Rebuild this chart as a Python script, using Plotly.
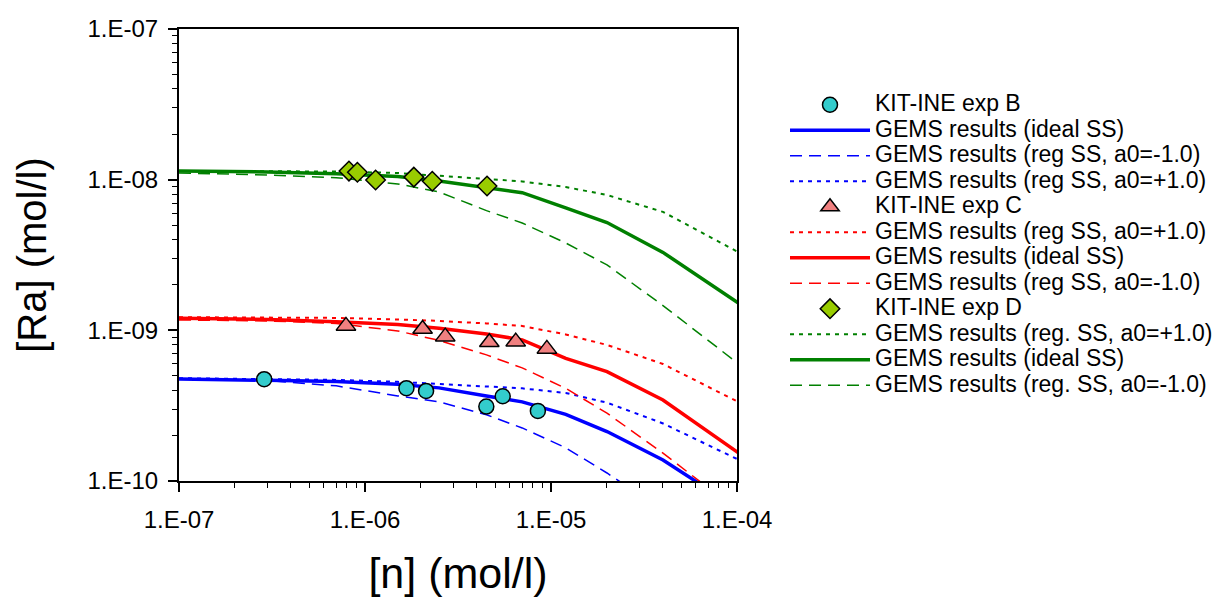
import plotly.graph_objects as go

# ---- data ----
x_model = [1e-7, 3e-7, 7e-7, 1.5e-6, 2.5e-6, 4.5e-6, 7e-6, 1.2e-5, 2e-5, 4e-5, 1e-4, 1.3e-4]

blue_ideal = [4.76e-10, 4.69e-10, 4.58e-10, 4.38e-10, 4.15e-10, 3.67e-10, 3.35e-10, 2.77e-10, 2.13e-10, 1.38e-10, 6.73e-11, 5.35e-11]
blue_neg = [4.76e-10, 4.65e-10, 4.28e-10, 3.67e-10, 3.35e-10, 2.75e-10, 2.25e-10, 1.66e-10, 1.13e-10, 6.35e-11, 3.0e-11, 2.5e-11]
blue_pos = [4.81e-10, 4.77e-10, 4.69e-10, 4.55e-10, 4.38e-10, 4.24e-10, 4.12e-10, 3.84e-10, 3.31e-10, 2.41e-10, 1.40e-10, 1.22e-10]

red_pos = [1.222e-9, 1.218e-9, 1.209e-9, 1.181e-9, 1.155e-9, 1.111e-9, 1.069e-9, 9.39e-10, 8.0e-10, 5.98e-10, 3.35e-10, 2.87e-10]
red_ideal = [1.203e-9, 1.181e-9, 1.142e-9, 1.094e-9, 1.033e-9, 9.46e-10, 8.64e-10, 6.51e-10, 5.32e-10, 3.45e-10, 1.56e-10, 1.24e-10]
red_neg = [1.172e-9, 1.155e-9, 1.111e-9, 9.91e-10, 8.57e-10, 6.87e-10, 5.63e-10, 4.12e-10, 2.82e-10, 1.53e-10, 6.43e-11, 5.04e-11]

green_pos = [1.142e-8, 1.142e-8, 1.133e-8, 1.107e-8, 1.066e-8, 1.011e-8, 9.73e-9, 8.94e-9, 7.91e-9, 6.11e-9, 3.34e-9, 2.84e-9]
green_ideal = [1.14e-8, 1.125e-8, 1.096e-8, 1.05e-8, 9.80e-9, 8.87e-9, 8.20e-9, 6.49e-9, 5.19e-9, 3.29e-9, 1.52e-9, 1.24e-9]
green_neg = [1.107e-8, 1.075e-8, 1.031e-8, 9.37e-9, 8.29e-9, 6.23e-9, 5.16e-9, 3.80e-9, 2.72e-9, 1.46e-9, 6.1e-10, 4.9e-10]

expB_x = [2.87e-7, 1.67e-6, 2.13e-6, 4.49e-6, 5.5e-6, 8.5e-6]
expB_y = [4.74e-10, 4.13e-10, 3.96e-10, 3.12e-10, 3.65e-10, 2.92e-10]
expC_x = [7.9e-7, 2.04e-6, 2.7e-6, 4.66e-6, 6.46e-6, 9.5e-6]
expC_y = [1.07e-9, 1.02e-9, 9.08e-10, 8.34e-10, 8.41e-10, 7.53e-10]
expD_x = [8.2e-7, 9.1e-7, 1.14e-6, 1.83e-6, 2.3e-6, 4.53e-6]
expD_y = [1.14e-8, 1.12e-8, 9.95e-9, 1.04e-8, 9.76e-9, 9.08e-9]

x_ticks = [1e-7, 1e-6, 1e-5, 1e-4]
x_ticktext = ["1.E-07", "1.E-06", "1.E-05", "1.E-04"]
y_ticks = [1e-10, 1e-9, 1e-8, 1e-7]
y_ticktext = ["1.E-10", "1.E-09", "1.E-08", "1.E-07"]

BLUE, RED, GREEN = "#0000FF", "#FF0000", "#008000"
DASH = "12px,7px"
DOT = "4px,5px"
FONT = "Liberation Sans, Arial"

def lg(t):
    return '<span style="font-size:23px">' + t + '</span>'

fig = go.Figure()

def exp_trace(x, y, name, symbol, color, size):
    fig.add_trace(go.Scatter(x=x, y=y, mode="markers", name=lg(name),
                             marker=dict(symbol=symbol, color=color, size=size,
                                         line=dict(color="black", width=1.5))))

def line_trace(y, name, color, kind):
    if kind == "solid":
        line = dict(color=color, width=3.5)
    elif kind == "dash":
        line = dict(color=color, width=1.5, dash=DASH)
    else:
        line = dict(color=color, width=2, dash=DOT)
    fig.add_trace(go.Scatter(x=x_model, y=y, mode="lines", name=lg(name), line=line))

order = []
line_trace(blue_ideal, "GEMS results (ideal SS)", BLUE, "solid"); order.append(2)
line_trace(blue_neg, "GEMS results (reg SS, a0=-1.0)", BLUE, "dash"); order.append(3)
line_trace(blue_pos, "GEMS results (reg SS, a0=+1.0)", BLUE, "dot"); order.append(4)
line_trace(red_pos, "GEMS results (reg SS, a0=+1.0)", RED, "dot"); order.append(6)
line_trace(red_ideal, "GEMS results (ideal SS)", RED, "solid"); order.append(7)
line_trace(red_neg, "GEMS results (reg SS, a0=-1.0)", RED, "dash"); order.append(8)
line_trace(green_pos, "GEMS results (reg. SS, a0=+1.0)", GREEN, "dot"); order.append(10)
line_trace(green_ideal, "GEMS results (ideal SS)", GREEN, "solid"); order.append(11)
line_trace(green_neg, "GEMS results (reg. SS, a0=-1.0)", GREEN, "dash"); order.append(12)
exp_trace(expB_x, expB_y, "KIT-INE exp B", "circle", "#33CCCC", 15); order.append(1)
exp_trace(expC_x, expC_y, "KIT-INE exp C", "triangle-up", "#F08080", 17); order.append(5)
exp_trace(expD_x, expD_y, "KIT-INE exp D", "diamond", "#99CC00", 15); order.append(9)

for tr, r in zip(fig.data, order):
    tr.legendrank = r

def minor_vals(lo, hi):
    vals = []
    for e in range(lo, hi):
        for m in range(2, 10):
            vals.append(m * 10.0 ** e)
    return vals

axis_common = dict(
    type="log", showgrid=False, zeroline=False,
    showline=True, linecolor="black", linewidth=2, mirror=True,
    ticks="outside", ticklen=9, tickwidth=1.5, tickcolor="black",
    tickmode="array", automargin=False,
    tickfont=dict(family=FONT, size=24, color="black"),
)

fig.update_xaxes(**axis_common, range=[-7, -4], tickvals=x_ticks, ticktext=x_ticktext,
                 minor=dict(tickmode="array", tickvals=minor_vals(-7, -4), ticks="outside",
                            ticklen=5, tickwidth=1, tickcolor="black", showgrid=False),
                 title_text="[n] (mol/l)", title_standoff=26, ticklabelstandoff=7,
                 title_font=dict(family=FONT, size=43, color="black"))
fig.update_yaxes(**axis_common, range=[-10, -7], tickvals=y_ticks, ticktext=y_ticktext,
                 minor=dict(tickmode="array", tickvals=minor_vals(-10, -7), ticks="outside",
                            ticklen=5, tickwidth=1, tickcolor="black", showgrid=False),
                 title_text="[Ra] (mol/l)", title_standoff=28, ticklabelstandoff=5,
                 title_font=dict(family=FONT, size=40, color="black"))

fig.update_layout(
    width=1219, height=603,
    margin=dict(l=179, r=482, t=29, b=122, autoexpand=False),
    paper_bgcolor="white", plot_bgcolor="white",
    font=dict(family=FONT, color="black"),
    showlegend=True,
    legend=dict(x=(785 - 179) / 558, xanchor="left", y=(481 - 87) / 452, yanchor="top",
                font=dict(size=17.3, family=FONT, color="black"),
                itemwidth=80, tracegroupgap=0, bgcolor="rgba(0,0,0,0)", traceorder="normal"),
)

fig.write_html("out.html")
